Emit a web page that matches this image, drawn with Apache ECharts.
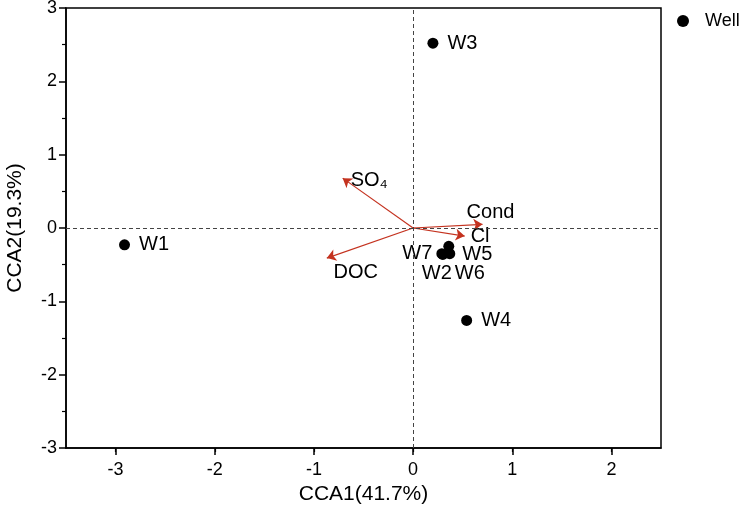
<!DOCTYPE html>
<html><head><meta charset="utf-8">
<script src="https://cdn.jsdelivr.net/npm/echarts@6/dist/echarts.min.js"></script>
<style>html,body{margin:0;padding:0;background:#fff}#c{width:749px;height:513px}</style>
</head><body><div id="c"></div>
<script>
// Site scores (wells)
const wellNames = ['W1','W3','W4','W5','W6','W7','W2'];
const wellX = [-2.91, 0.20, 0.54, 0.36, 0.37, 0.29, 0.30];
const wellY = [-0.23, 2.52, -1.26, -0.25, -0.35, -0.35, -0.36];
// Environmental variable arrows
const envNames = ['SO₄','DOC','Cond','Cl'];
const envX = [-0.71, -0.87, 0.70, 0.52];
const envY = [0.68, -0.41, 0.05, -0.11];
// Axes
const xTicks = [-3,-2,-1,0,1,2];
const yTicks = [-3,-2,-1,0,1,2,3];
const xName = 'CCA1(41.7%)';
const yName = 'CCA2(19.3%)';

const FONT = '"Liberation Sans", Arial, sans-serif';
const labelPos = {
  W1:{position:'right',distance:9}, W3:{position:'right',distance:9}, W4:{position:'right',distance:9},
  W5:{position:'right',distance:8,offset:[0,8]}, W6:{position:'bottom',distance:4,offset:[20,0]},
  W7:{position:'left',distance:6,offset:[2,0]}, W2:{position:'bottom',distance:4,offset:[-6,0]}
};
const envLabel = {
  'SO₄':{position:'right',distance:8,offset:[0,2]},
  'DOC':{position:'bottom',distance:4,offset:[29,0]},
  'Cond':{position:'top',distance:2,offset:[8,0]},
  'Cl':{position:'right',distance:6,offset:[0,0]}
};

const wellData = wellNames.map((n,i)=>({name:n,value:[wellX[i],wellY[i]],
  label:Object.assign({show:true,formatter:n,color:'#000',fontSize:20,fontFamily:FONT},labelPos[n])}));
const arrowData = envNames.map((n,i)=>({coords:[[0,0],[envX[i],envY[i]]]}));
const envLabelData = envNames.map((n,i)=>({name:n,value:[envX[i],envY[i]],
  label:Object.assign({show:true,formatter:n,color:'#000',fontSize:20,fontFamily:FONT},envLabel[n])}));

const chart = echarts.init(document.getElementById('c'), null, {renderer:'canvas'});
const axisCommon = {
  axisLine:{onZero:false,lineStyle:{color:'#000',width:1.5}},
  axisTick:{show:true,length:7,lineStyle:{color:'#000',width:1.5}},
  minorTick:{show:true,splitNumber:2,length:4,lineStyle:{color:'#000',width:1.2}},
  splitLine:{show:false},
  axisLabel:{color:'#000',fontSize:18,fontFamily:FONT},
  nameLocation:'middle',
  nameTextStyle:{color:'#000',fontSize:21,fontFamily:FONT}
};
chart.setOption({
  animation:false,
  backgroundColor:'#fff',
  grid:{left:66,right:88,top:8,bottom:65,show:true,borderColor:'#000',borderWidth:1.5,backgroundColor:'transparent',
    outerBoundsMode:'none',containLabel:false},
  legend:{show:true,left:672,top:7,icon:'circle',itemWidth:12,itemHeight:12,data:['Well'],
    textStyle:{color:'#000',fontSize:18,fontFamily:FONT,padding:[0,0,0,11]}},
  xAxis:Object.assign({},axisCommon,{type:'value',min:-3.5,max:2.5,interval:1,name:xName,nameGap:28,
    axisLabel:Object.assign({},axisCommon.axisLabel,{margin:13,
      customValues:xTicks}),
    axisTick:Object.assign({},axisCommon.axisTick,{customValues:xTicks})}),
  yAxis:Object.assign({},axisCommon,{type:'value',min:-3,max:3,interval:1,name:yName,nameGap:40,
    axisLabel:Object.assign({},axisCommon.axisLabel,{margin:9})}),
  series:[
    {type:'lines',coordinateSystem:'cartesian2d',silent:true,z:3,
      symbol:['none','arrow'],symbolSize:9,
      lineStyle:{color:'#c4321f',width:1.2,opacity:1},
      data:arrowData},
    {type:'scatter',name:'env',symbolSize:0,silent:true,z:4,itemStyle:{opacity:1},data:envLabelData},
    {type:'scatter',name:'Well',symbol:'circle',symbolSize:11,itemStyle:{color:'#000',opacity:1},z:5,
      data:wellData,
      markLine:{silent:true,symbol:['none','none'],label:{show:false},
        lineStyle:{color:'#444',type:[4,3],width:1},
        data:[{xAxis:0},{yAxis:0}]}}
  ]
});
</script></body></html>
